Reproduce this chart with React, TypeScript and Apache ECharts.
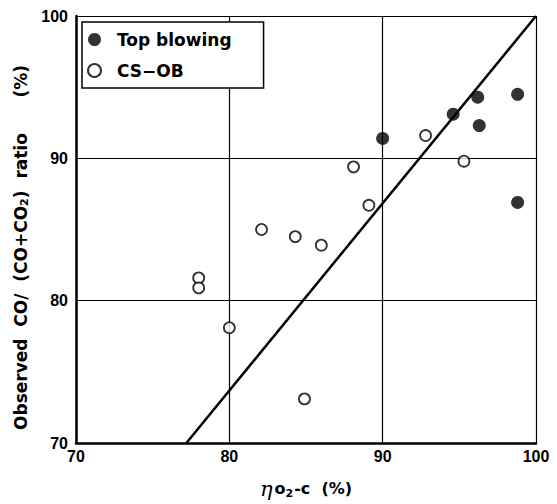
import React, { useEffect, useRef } from "react";
import * as echarts from "echarts";

const topBlowing: [number, number][] = [
  [90.0, 91.4],
  [94.6, 93.1],
  [96.2, 94.3],
  [96.3, 92.3],
  [98.8, 94.5],
  [98.8, 86.9],
];

const csOb: [number, number][] = [
  [92.8, 91.6],
  [95.3, 89.8],
  [88.1, 89.4],
  [89.1, 86.7],
  [82.1, 85.0],
  [84.3, 84.5],
  [86.0, 83.9],
  [78.0, 81.6],
  [78.0, 80.9],
  [80.0, 78.1],
  [84.9, 73.1],
];

const fitLine: [number, number][] = [
  [77.2, 70],
  [100, 100],
];

const xTicks = [70, 80, 90, 100];
const yTicks = [70, 80, 90, 100];

export default function App() {
  const ref = useRef<HTMLDivElement>(null);
  useEffect(() => {
    document.body.style.margin = "0";
    const chart = echarts.init(ref.current!, null, { renderer: "svg" });
    const font = "'Liberation Sans', Arial, sans-serif";
    const wide = "'DejaVu Sans', sans-serif";
    chart.setOption({
      animation: false,
      backgroundColor: "#fff",
      textStyle: { fontFamily: font, color: "#000" },
      grid: { left: 76, right: 21, top: 16, bottom: 57 },
      legend: {
        orient: "vertical",
        left: 82,
        top: 22,
        itemWidth: 13,
        itemHeight: 13,
        itemGap: 14,
        padding: [9, 32, 9, 5],
        borderColor: "#000",
        borderWidth: 1.5,
        backgroundColor: "#fff",
        textStyle: { fontSize: 17, fontWeight: "bold", color: "#000", fontFamily: wide, padding: [0, 0, 0, 11] },
        data: ["Top blowing", "CS\u2212OB"],
      },
      xAxis: {
        type: "value",
        min: 70,
        max: 100,
        interval: 10,
        axisLine: { show: true, onZero: false, lineStyle: { color: "#000", width: 2.5 } },
        axisTick: { show: false },
        splitLine: { show: true, lineStyle: { color: "#000", width: 1.2 } },
        axisLabel: {
          fontSize: 16,
          fontWeight: "bold",
          color: "#000",
          margin: 5,
          formatter: (v: number) => (xTicks.includes(v) ? String(v) : ""),
        },
        name: "{eta|\u03B7}{o|o}{sub|2}{n|-c  (%)}",
        nameLocation: "middle",
        nameGap: 35,
        nameTextStyle: {
          rich: {
            eta: { fontSize: 21, fontStyle: "italic", fontFamily: "'DejaVu Serif', serif", color: "#000" },
            o: { fontSize: 16, fontWeight: "bold", fontFamily: wide, color: "#000", padding: [0, 0, 0, 2] },
            sub: { fontSize: 11, fontWeight: "bold", fontFamily: wide, color: "#000", verticalAlign: "bottom", padding: [8, 1, 0, 0] },
            n: { fontSize: 16, fontWeight: "bold", fontFamily: wide, color: "#000" },
          },
        },
      },
      yAxis: {
        type: "value",
        min: 70,
        max: 100,
        interval: 10,
        axisLine: { show: true, onZero: false, lineStyle: { color: "#000", width: 2.5 } },
        axisTick: { show: false },
        splitLine: { show: true, lineStyle: { color: "#000", width: 1.2 } },
        axisLabel: {
          fontSize: 16,
          fontWeight: "bold",
          color: "#000",
          margin: 8,
          formatter: (v: number) => (yTicks.includes(v) ? String(v) : ""),
        },
        name: "{n|Observed  CO/  (CO+CO}{sub|2}{n|)  ratio      (%)}",
        nameLocation: "middle",
        nameGap: 40,
        nameTextStyle: {
          padding: [0, 36, 0, 0],
          rich: {
            n: { fontSize: 17, fontWeight: "bold", fontFamily: wide, color: "#000" },
            sub: { fontSize: 11, fontWeight: "bold", fontFamily: wide, color: "#000", verticalAlign: "bottom", padding: [8, 0, 0, 0] },
          },
        },
      },
      series: [
        {
          name: "fit",
          type: "line",
          data: fitLine,
          symbol: "none",
          lineStyle: { color: "#000", width: 2.5 },
          silent: true,
          z: 1,
        },
        {
          name: "Top blowing",
          type: "scatter",
          data: topBlowing,
          symbol: "circle",
          symbolSize: 13,
          itemStyle: { color: "#000", borderColor: "#000", borderWidth: 0 },
          z: 3,
        },
        {
          name: "CS\u2212OB",
          type: "scatter",
          data: csOb,
          symbol: "circle",
          symbolSize: 11,
          itemStyle: { color: "#fff", borderColor: "#000", borderWidth: 1.8 },
          z: 3,
        },
      ],
    });
    return () => chart.dispose();
  }, []);
  return <div ref={ref} style={{ width: 557, height: 504 }} />;
}
